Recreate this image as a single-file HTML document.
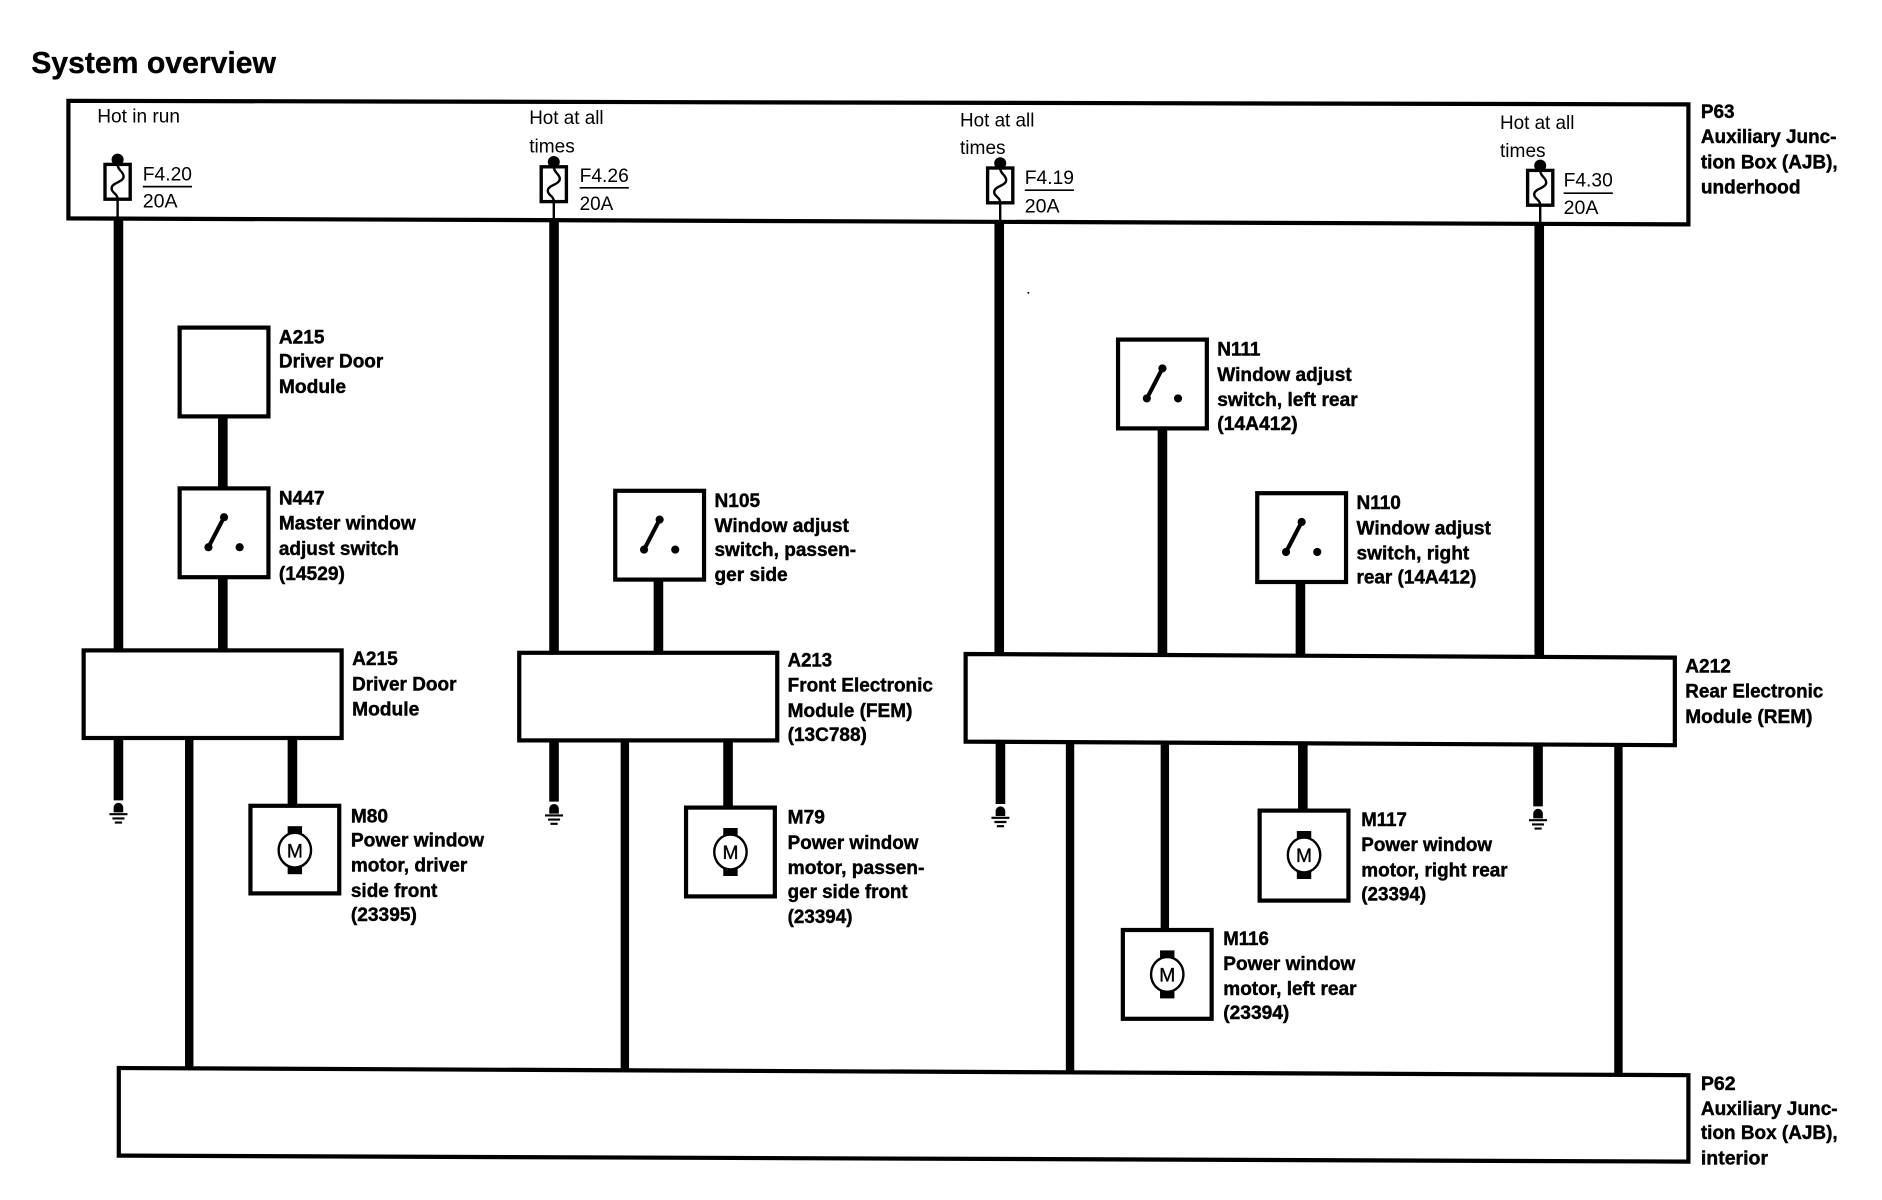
<!DOCTYPE html>
<html><head><meta charset="utf-8"><title>System overview</title>
<style>
html,body{margin:0;padding:0;background:#fff;width:1882px;height:1200px;overflow:hidden}
svg{display:block}
text{font-family:"Liberation Sans",sans-serif;fill:#000}
.b{font-weight:bold;font-size:16px;stroke:#000;stroke-width:.35px}
.r{font-size:16px}
.m{font-size:16px;text-anchor:middle;stroke:#000;stroke-width:.3px}
.box{fill:none;stroke:#000;stroke-width:3.5}
.w{stroke:#000;stroke-width:8;fill:none}
.w2{stroke:#000;stroke-width:7;fill:none}
.t{stroke:#000;stroke-width:2;fill:none}
.f{stroke:#000;stroke-width:2.8;fill:#fff}
</style></head><body>
<svg width="1882" height="1200" viewBox="0 0 1568.33 1000" xmlns="http://www.w3.org/2000/svg">
<rect width="1569" height="1000" fill="#fff"/>

<text x="26" y="61" font-size="25.5" font-weight="bold" stroke="#000" stroke-width=".3" textLength="204" lengthAdjust="spacingAndGlyphs">System overview</text>

<g transform="translate(0.7,0)">
<!-- wires -->
<g class="w">
<path d="M98 182V541"/><path d="M461 185V543"/><path d="M832 186V545"/><path d="M1282 187V546"/>
<path d="M185 347V407"/><path d="M185 481V541"/>
<path d="M548 483V544"/>
<path d="M968 357V545"/><path d="M1083 485V546"/>
<path d="M98 615V667"/><path d="M243 615V672"/>
<path d="M461 617V668"/><path d="M606 617V673"/>
<path d="M833 618V670"/><path d="M1085 620V675"/><path d="M1281 621V672"/>
</g>
<g class="w2">
<path d="M157 615V891"/><path d="M520 617V892"/><path d="M891 619V893"/><path d="M970 620V775"/><path d="M1348 622V896"/>
</g>

<!-- modules -->
<rect class="box" x="69" y="542" width="215" height="73"/>
<rect class="box" x="432" y="544" width="215" height="73"/>
<polygon class="box" points="804,545 1395,548 1395,621 804,618"/>
<rect class="box" x="149" y="273" width="74" height="74"/>

<!-- switches -->
<g transform="translate(186,444)"><rect class="box" x="-37" y="-37" width="74" height="74"/><path d="M-13 12L0-13" stroke="#000" stroke-width="3.4"/><circle cx="-13" cy="12" r="3.4"/><circle cx="0" cy="-13" r="3.4"/><circle cx="13" cy="12" r="3.4"/></g>
<g transform="translate(549,446)"><rect class="box" x="-37" y="-37" width="74" height="74"/><path d="M-13 12L0-13" stroke="#000" stroke-width="3.4"/><circle cx="-13" cy="12" r="3.4"/><circle cx="0" cy="-13" r="3.4"/><circle cx="13" cy="12" r="3.4"/></g>
<g transform="translate(968,320)"><rect class="box" x="-37" y="-37" width="74" height="74"/><path d="M-13 12L0-13" stroke="#000" stroke-width="3.4"/><circle cx="-13" cy="12" r="3.4"/><circle cx="0" cy="-13" r="3.4"/><circle cx="13" cy="12" r="3.4"/></g>
<g transform="translate(1084,448)"><rect class="box" x="-37" y="-37" width="74" height="74"/><path d="M-13 12L0-13" stroke="#000" stroke-width="3.4"/><circle cx="-13" cy="12" r="3.4"/><circle cx="0" cy="-13" r="3.4"/><circle cx="13" cy="12" r="3.4"/></g>

<!-- motors -->
<g transform="translate(245,708.500)"><rect class="box" x="-37" y="-37" width="74" height="73"/><rect x="-6" y="-20" width="12" height="10"/><rect x="-6" y="10" width="12" height="10"/><ellipse class="t" style="fill:#fff" rx="13.500" ry="14.500"/><text class="m" y="6">M</text></g>
<g transform="translate(608,710)"><rect class="box" x="-37" y="-37" width="74" height="74"/><rect x="-6" y="-20" width="12" height="10"/><rect x="-6" y="10" width="12" height="10"/><ellipse class="t" style="fill:#fff" rx="13.500" ry="14.500"/><text class="m" y="6">M</text></g>
<g transform="translate(1086,712.500)"><rect class="box" x="-37" y="-37" width="74" height="75"/><rect x="-6" y="-20" width="12" height="10"/><rect x="-6" y="10" width="12" height="10"/><ellipse class="t" style="fill:#fff" rx="13.500" ry="14.500"/><text class="m" y="6">M</text></g>
<g transform="translate(972,812)"><rect class="box" x="-37" y="-37" width="74" height="74"/><rect x="-6" y="-20" width="12" height="10"/><rect x="-6" y="10" width="12" height="10"/><ellipse class="t" style="fill:#fff" rx="13.500" ry="14.500"/><text class="m" y="6">M</text></g>

<!-- grounds -->
<g transform="translate(98,669)"><path d="M-4 8V4A4 4 0 0 1 4 4V8Z"/><path d="M-7.500 9.500H7.500M-5 13H5M-3 16.500H3" stroke="#000" stroke-width="1.800"/></g>
<g transform="translate(461,670)"><path d="M-4 8V4A4 4 0 0 1 4 4V8Z"/><path d="M-7.500 9.500H7.500M-5 13H5M-3 16.500H3" stroke="#000" stroke-width="1.800"/></g>
<g transform="translate(833,672)"><path d="M-4 8V4A4 4 0 0 1 4 4V8Z"/><path d="M-7.500 9.500H7.500M-5 13H5M-3 16.500H3" stroke="#000" stroke-width="1.800"/></g>
<g transform="translate(1281,674)"><path d="M-4 8V4A4 4 0 0 1 4 4V8Z"/><path d="M-7.500 9.500H7.500M-5 13H5M-3 16.500H3" stroke="#000" stroke-width="1.800"/></g>
</g>

<!-- top and bottom junction boxes -->
<polygon class="box" points="57,84 1407,87 1407,187 57,182"/>
<polygon class="box" points="99,890 1407,896 1407,968 99,963"/>

<!-- fuses -->
<g transform="translate(98,137)">
<circle cx="0" cy="-4" r="5"/><path class="t" d="M0 29V45"/><rect class="f" x="-10.500" y="0" width="21" height="29"/>
<path class="t" d="M0 0C0 5 5 6 5 10C5 15-5 15-5 20C-5 24 0 24 0 29"/></g>
<g transform="translate(461.500,139)">
<circle cx="0" cy="-4" r="5"/><path class="t" d="M0 29V46"/><rect class="f" x="-10.500" y="0" width="21" height="29"/>
<path class="t" d="M0 0C0 5 5 6 5 10C5 15-5 15-5 20C-5 24 0 24 0 29"/></g>
<g transform="translate(833.500,140)">
<circle cx="0" cy="-4" r="5"/><path class="t" d="M0 29V46"/><rect class="f" x="-10.500" y="0" width="21" height="29"/>
<path class="t" d="M0 0C0 5 5 6 5 10C5 15-5 15-5 20C-5 24 0 24 0 29"/></g>
<g transform="translate(1283.500,142)">
<circle cx="0" cy="-4" r="5"/><path class="t" d="M0 29V45"/><rect class="f" x="-10.500" y="0" width="21" height="29"/>
<path class="t" d="M0 0C0 5 5 6 5 10C5 15-5 15-5 20C-5 24 0 24 0 29"/></g>

<path d="M119 155.500H160M483 156.500H524M854 158.500H895M1303 161H1344" stroke="#000" stroke-width="1.400"/>

<circle cx="857" cy="244" r="0.800"/>

<!-- regular labels -->
<text class="r" x="81" y="102" textLength="69" lengthAdjust="spacingAndGlyphs">Hot in run</text>
<text class="r" x="119" y="150.500" textLength="41" lengthAdjust="spacingAndGlyphs">F4.20</text>
<text class="r" x="119" y="173" textLength="29" lengthAdjust="spacingAndGlyphs">20A</text>
<text class="r" x="441" y="103.500" textLength="62" lengthAdjust="spacingAndGlyphs">Hot at all</text>
<text class="r" x="441" y="127" textLength="38" lengthAdjust="spacingAndGlyphs">times</text>
<text class="r" x="483" y="151.500" textLength="41" lengthAdjust="spacingAndGlyphs">F4.26</text>
<text class="r" x="483" y="175" textLength="28" lengthAdjust="spacingAndGlyphs">20A</text>
<text class="r" x="800" y="105.500" textLength="62" lengthAdjust="spacingAndGlyphs">Hot at all</text>
<text class="r" x="800" y="128.500" textLength="38" lengthAdjust="spacingAndGlyphs">times</text>
<text class="r" x="854" y="153.500" textLength="41" lengthAdjust="spacingAndGlyphs">F4.19</text>
<text class="r" x="854" y="177" textLength="29" lengthAdjust="spacingAndGlyphs">20A</text>
<text class="r" x="1250" y="107.500" textLength="62" lengthAdjust="spacingAndGlyphs">Hot at all</text>
<text class="r" x="1250" y="131" textLength="38" lengthAdjust="spacingAndGlyphs">times</text>
<text class="r" x="1303" y="155.500" textLength="41" lengthAdjust="spacingAndGlyphs">F4.30</text>
<text class="r" x="1303" y="178.500" textLength="29" lengthAdjust="spacingAndGlyphs">20A</text>

<!-- bold labels -->
<g transform="translate(0.4,-0.7)">
<text class="b" x="1417" y="99" textLength="28" lengthAdjust="spacingAndGlyphs">P63</text>
<text class="b" x="1417" y="120" textLength="113" lengthAdjust="spacingAndGlyphs">Auxiliary Junc-</text>
<text class="b" x="1417" y="141" textLength="114" lengthAdjust="spacingAndGlyphs">tion Box (AJB),</text>
<text class="b" x="1417" y="162" textLength="83" lengthAdjust="spacingAndGlyphs">underhood</text>

<text class="b" x="232" y="287" textLength="38" lengthAdjust="spacingAndGlyphs">A215</text>
<text class="b" x="232" y="307" textLength="87" lengthAdjust="spacingAndGlyphs">Driver Door</text>
<text class="b" x="232" y="328" textLength="56" lengthAdjust="spacingAndGlyphs">Module</text>

<text class="b" x="232" y="421" textLength="38" lengthAdjust="spacingAndGlyphs">N447</text>
<text class="b" x="232" y="442" textLength="114" lengthAdjust="spacingAndGlyphs">Master window</text>
<text class="b" x="232" y="463" textLength="100" lengthAdjust="spacingAndGlyphs">adjust switch</text>
<text class="b" x="232" y="484" textLength="55" lengthAdjust="spacingAndGlyphs">(14529)</text>

<text class="b" x="293" y="555" textLength="38" lengthAdjust="spacingAndGlyphs">A215</text>
<text class="b" x="293" y="576" textLength="87" lengthAdjust="spacingAndGlyphs">Driver Door</text>
<text class="b" x="293" y="597" textLength="56" lengthAdjust="spacingAndGlyphs">Module</text>

<text class="b" x="292" y="686" textLength="31" lengthAdjust="spacingAndGlyphs">M80</text>
<text class="b" x="292" y="706" textLength="111" lengthAdjust="spacingAndGlyphs">Power window</text>
<text class="b" x="292" y="727" textLength="97" lengthAdjust="spacingAndGlyphs">motor, driver</text>
<text class="b" x="292" y="748" textLength="72" lengthAdjust="spacingAndGlyphs">side front</text>
<text class="b" x="292" y="768" textLength="55" lengthAdjust="spacingAndGlyphs">(23395)</text>

<text class="b" x="595" y="423" textLength="38" lengthAdjust="spacingAndGlyphs">N105</text>
<text class="b" x="595" y="444" textLength="112" lengthAdjust="spacingAndGlyphs">Window adjust</text>
<text class="b" x="595" y="464" textLength="118" lengthAdjust="spacingAndGlyphs">switch, passen-</text>
<text class="b" x="595" y="485" textLength="61" lengthAdjust="spacingAndGlyphs">ger side</text>

<text class="b" x="656" y="556" textLength="37" lengthAdjust="spacingAndGlyphs">A213</text>
<text class="b" x="656" y="577" textLength="121" lengthAdjust="spacingAndGlyphs">Front Electronic</text>
<text class="b" x="656" y="598" textLength="104" lengthAdjust="spacingAndGlyphs">Module (FEM)</text>
<text class="b" x="656" y="618" textLength="66" lengthAdjust="spacingAndGlyphs">(13C788)</text>

<text class="b" x="656" y="687" textLength="31" lengthAdjust="spacingAndGlyphs">M79</text>
<text class="b" x="656" y="708" textLength="109" lengthAdjust="spacingAndGlyphs">Power window</text>
<text class="b" x="656" y="729" textLength="114" lengthAdjust="spacingAndGlyphs">motor, passen-</text>
<text class="b" x="656" y="749" textLength="100" lengthAdjust="spacingAndGlyphs">ger side front</text>
<text class="b" x="656" y="770" textLength="54" lengthAdjust="spacingAndGlyphs">(23394)</text>

<text class="b" x="1014" y="297" textLength="36" lengthAdjust="spacingAndGlyphs">N111</text>
<text class="b" x="1014" y="318" textLength="112" lengthAdjust="spacingAndGlyphs">Window adjust</text>
<text class="b" x="1014" y="339" textLength="117" lengthAdjust="spacingAndGlyphs">switch, left rear</text>
<text class="b" x="1014" y="359" textLength="67" lengthAdjust="spacingAndGlyphs">(14A412)</text>

<text class="b" x="1130" y="425" textLength="37" lengthAdjust="spacingAndGlyphs">N110</text>
<text class="b" x="1130" y="446" textLength="112" lengthAdjust="spacingAndGlyphs">Window adjust</text>
<text class="b" x="1130" y="467" textLength="94" lengthAdjust="spacingAndGlyphs">switch, right</text>
<text class="b" x="1130" y="487" textLength="100" lengthAdjust="spacingAndGlyphs">rear (14A412)</text>

<text class="b" x="1404" y="561" textLength="38" lengthAdjust="spacingAndGlyphs">A212</text>
<text class="b" x="1404" y="582" textLength="115" lengthAdjust="spacingAndGlyphs">Rear Electronic</text>
<text class="b" x="1404" y="603" textLength="106" lengthAdjust="spacingAndGlyphs">Module (REM)</text>

<text class="b" x="1134" y="689" textLength="38" lengthAdjust="spacingAndGlyphs">M117</text>
<text class="b" x="1134" y="710" textLength="109" lengthAdjust="spacingAndGlyphs">Power window</text>
<text class="b" x="1134" y="731" textLength="122" lengthAdjust="spacingAndGlyphs">motor, right rear</text>
<text class="b" x="1134" y="751" textLength="54" lengthAdjust="spacingAndGlyphs">(23394)</text>

<text class="b" x="1019" y="788" textLength="38" lengthAdjust="spacingAndGlyphs">M116</text>
<text class="b" x="1019" y="809" textLength="110" lengthAdjust="spacingAndGlyphs">Power window</text>
<text class="b" x="1019" y="830" textLength="111" lengthAdjust="spacingAndGlyphs">motor, left rear</text>
<text class="b" x="1019" y="850" textLength="55" lengthAdjust="spacingAndGlyphs">(23394)</text>

<text class="b" x="1417" y="909" textLength="29" lengthAdjust="spacingAndGlyphs">P62</text>
<text class="b" x="1417" y="930" textLength="114" lengthAdjust="spacingAndGlyphs">Auxiliary Junc-</text>
<text class="b" x="1417" y="950" textLength="114" lengthAdjust="spacingAndGlyphs">tion Box (AJB),</text>
<text class="b" x="1417" y="971" textLength="56" lengthAdjust="spacingAndGlyphs">interior</text>
</g>
</svg>
</body></html>
